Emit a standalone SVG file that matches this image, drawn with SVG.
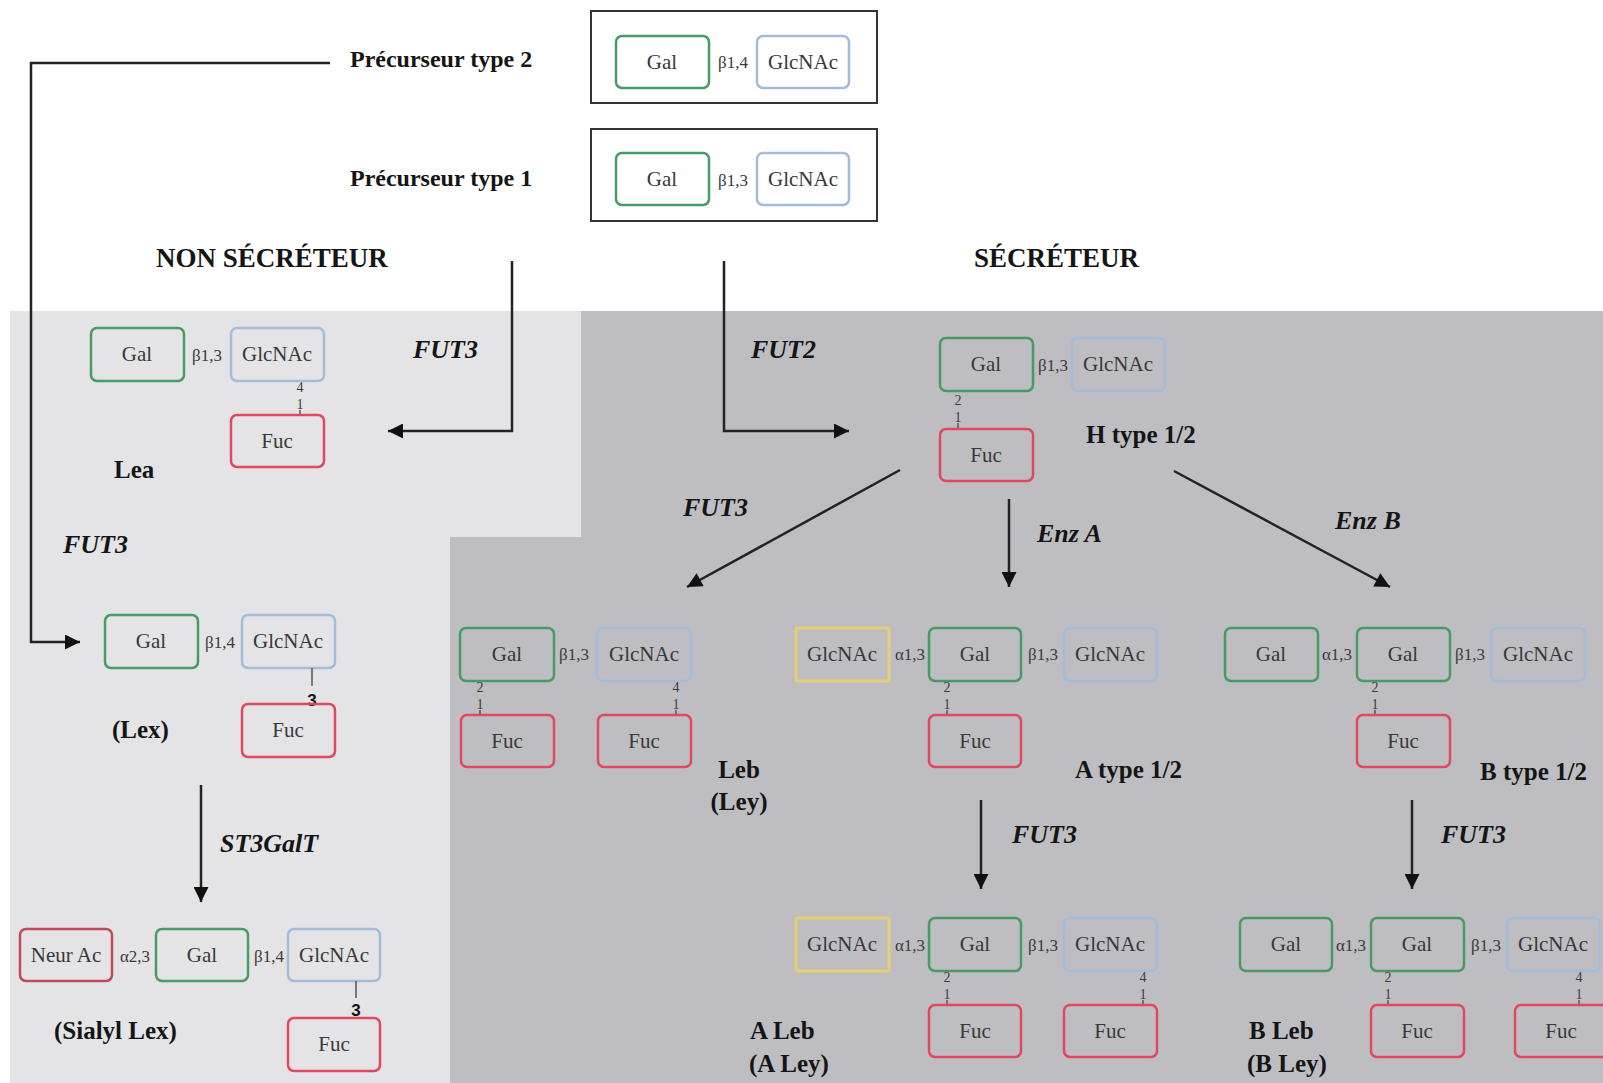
<svg xmlns="http://www.w3.org/2000/svg" width="1603" height="1083" viewBox="0 0 1603 1083">
<defs>
<style>
.bx{fill:none;stroke-width:2.5}
.gal{stroke:#469c64}
.glc{stroke:#a3bcd8}
.fuc{stroke:#e0485f}
.yel{stroke:#e6cf72;stroke-width:3}
.neu{stroke:#c04a5a}
.outer{fill:none;stroke:#333;stroke-width:2}
.t{font-family:"Liberation Serif",serif;font-size:21px;fill:#383838;text-anchor:middle}
.lk{font-family:"Liberation Serif",serif;font-size:17px;fill:#3a3a3a;text-anchor:middle}
.n{font-family:"Liberation Serif",serif;font-size:14px;fill:#3a3a3a;text-anchor:middle}
.b3{font-family:"Liberation Sans",sans-serif;font-size:17px;font-weight:bold;fill:#111;text-anchor:middle}
.lb{font-family:"Liberation Serif",serif;font-size:25px;font-weight:bold;fill:#151515}
.pr{font-family:"Liberation Serif",serif;font-size:24px;font-weight:bold;fill:#151515}
.hd{font-family:"Liberation Serif",serif;font-size:27px;font-weight:bold;fill:#151515}
.en{font-family:"Liberation Serif",serif;font-size:26px;font-weight:bold;font-style:italic;fill:#151515}
.bond{stroke:#555;stroke-width:1.5}
.c{fill:none;stroke:#222;stroke-width:2.5}
</style>
<marker id="ah" viewBox="0 0 10 10" refX="10" refY="5" markerWidth="17" markerHeight="15" markerUnits="userSpaceOnUse" orient="auto"><path d="M0,0 L10,5 L0,10 z" fill="#111"/></marker>
</defs>
<rect width="1603" height="1083" fill="#fff"/>
<polygon points="10,311 581,311 581,537 450,537 450,1083 10,1083" fill="#e4e4e7"/>
<polygon points="581,311 1603,311 1603,1083 450,1083 450,537 581,537" fill="#bebec2"/>

<g id="headers">
<text class="hd" x="156" y="267">NON SÉCRÉTEUR</text>
<text class="hd" x="974" y="267">SÉCRÉTEUR</text>
<text class="pr" x="350" y="67">Précurseur type 2</text>
<text class="pr" x="350" y="186">Précurseur type 1</text>
</g>

<g id="prec2">
<rect class="outer" x="591" y="11" width="286" height="92"/>
<rect class="bx gal" x="616" y="36" width="93" height="52" rx="6"/>
<text class="t" x="662" y="69">Gal</text>
<text class="lk" x="733" y="68">β1,4</text>
<rect class="bx glc" x="757" y="36" width="92" height="52" rx="6"/>
<text class="t" x="803" y="69">GlcNAc</text>
</g>

<g id="prec1">
<rect class="outer" x="591" y="129" width="286" height="92"/>
<rect class="bx gal" x="616" y="153" width="93" height="52" rx="6"/>
<text class="t" x="662" y="186">Gal</text>
<text class="lk" x="733" y="186">β1,3</text>
<rect class="bx glc" x="757" y="153" width="92" height="52" rx="6"/>
<text class="t" x="803" y="186">GlcNAc</text>
</g>

<g id="lea">
<rect class="bx gal" x="91" y="328" width="93" height="53" rx="6"/>
<text class="t" x="137" y="361">Gal</text>
<text class="lk" x="207" y="361">β1,3</text>
<rect class="bx glc" x="231" y="328" width="93" height="53" rx="6"/>
<text class="t" x="277" y="361">GlcNAc</text>
<text class="n" x="300" y="392">4</text>
<text class="n" x="300" y="409">1</text>
<line class="bond" x1="300" y1="410" x2="300" y2="415"/>
<rect class="bx fuc" x="231" y="415" width="93" height="52" rx="6"/>
<text class="t" x="277" y="448">Fuc</text>
<text class="lb" x="114" y="478">Lea</text>
</g>

<g id="lex">
<rect class="bx gal" x="105" y="615" width="93" height="53" rx="6"/>
<text class="t" x="151" y="648">Gal</text>
<text class="lk" x="220" y="648">β1,4</text>
<rect class="bx glc" x="242" y="615" width="93" height="53" rx="6"/>
<text class="t" x="288" y="648">GlcNAc</text>
<line class="bond" x1="312" y1="668" x2="312" y2="686"/>
<text class="b3" x="312" y="706">3</text>
<rect class="bx fuc" x="242" y="704" width="93" height="53" rx="6"/>
<text class="t" x="288" y="737">Fuc</text>
<text class="lb" x="112" y="738">(Lex)</text>
</g>

<g id="sialyl-lex">
<rect class="bx neu" x="20" y="929" width="92" height="52" rx="6"/>
<text class="t" x="66" y="962">Neur Ac</text>
<text class="lk" x="135" y="962">α2,3</text>
<rect class="bx gal" x="156" y="929" width="92" height="52" rx="6"/>
<text class="t" x="202" y="962">Gal</text>
<text class="lk" x="269" y="962">β1,4</text>
<rect class="bx glc" x="288" y="929" width="92" height="52" rx="6"/>
<text class="t" x="334" y="962">GlcNAc</text>
<line class="bond" x1="356" y1="981" x2="356" y2="998"/>
<text class="b3" x="356" y="1016">3</text>
<rect class="bx fuc" x="288" y="1018" width="92" height="53" rx="6"/>
<text class="t" x="334" y="1051">Fuc</text>
<text class="lb" x="54" y="1039">(Sialyl Lex)</text>
</g>

<g id="h-type">
<rect class="bx gal" x="940" y="338" width="93" height="53" rx="6"/>
<text class="t" x="986" y="371">Gal</text>
<text class="lk" x="1053" y="371">β1,3</text>
<rect class="bx glc" x="1072" y="338" width="93" height="53" rx="6"/>
<text class="t" x="1118" y="371">GlcNAc</text>
<text class="n" x="958" y="405">2</text>
<text class="n" x="958" y="422">1</text>
<line class="bond" x1="958" y1="423" x2="958" y2="429"/>
<rect class="bx fuc" x="940" y="429" width="93" height="52" rx="6"/>
<text class="t" x="986" y="462">Fuc</text>
<text class="lb" x="1086" y="443">H type 1/2</text>
</g>

<g id="leb">
<rect class="bx gal" x="460" y="628" width="94" height="53" rx="6"/>
<text class="t" x="507" y="661">Gal</text>
<text class="lk" x="574" y="660">β1,3</text>
<rect class="bx glc" x="597" y="628" width="94" height="53" rx="6"/>
<text class="t" x="644" y="661">GlcNAc</text>
<text class="n" x="480" y="692">2</text>
<text class="n" x="480" y="709">1</text>
<line class="bond" x1="480" y1="710" x2="480" y2="715"/>
<text class="n" x="676" y="692">4</text>
<text class="n" x="676" y="709">1</text>
<line class="bond" x1="676" y1="710" x2="676" y2="715"/>
<rect class="bx fuc" x="461" y="715" width="93" height="52" rx="6"/>
<text class="t" x="507" y="748">Fuc</text>
<rect class="bx fuc" x="598" y="715" width="93" height="52" rx="6"/>
<text class="t" x="644" y="748">Fuc</text>
<text class="lb" x="739" y="778" text-anchor="middle">Leb</text>
<text class="lb" x="739" y="810" text-anchor="middle">(Ley)</text>
</g>

<g id="a-type">
<rect class="bx yel" x="796" y="628" width="93" height="53" rx="2"/>
<text class="t" x="842" y="661">GlcNAc</text>
<text class="lk" x="910" y="660">α1,3</text>
<rect class="bx gal" x="929" y="628" width="92" height="53" rx="6"/>
<text class="t" x="975" y="661">Gal</text>
<text class="lk" x="1043" y="660">β1,3</text>
<rect class="bx glc" x="1064" y="628" width="93" height="53" rx="6"/>
<text class="t" x="1110" y="661">GlcNAc</text>
<text class="n" x="947" y="692">2</text>
<text class="n" x="947" y="709">1</text>
<line class="bond" x1="947" y1="710" x2="947" y2="715"/>
<rect class="bx fuc" x="929" y="715" width="92" height="52" rx="6"/>
<text class="t" x="975" y="748">Fuc</text>
<text class="lb" x="1075" y="778">A type 1/2</text>
</g>

<g id="b-type">
<rect class="bx gal" x="1225" y="628" width="93" height="53" rx="6"/>
<text class="t" x="1271" y="661">Gal</text>
<text class="lk" x="1337" y="660">α1,3</text>
<rect class="bx gal" x="1357" y="628" width="93" height="53" rx="6"/>
<text class="t" x="1403" y="661">Gal</text>
<text class="lk" x="1470" y="660">β1,3</text>
<rect class="bx glc" x="1491" y="628" width="94" height="53" rx="6"/>
<text class="t" x="1538" y="661">GlcNAc</text>
<text class="n" x="1375" y="692">2</text>
<text class="n" x="1375" y="709">1</text>
<line class="bond" x1="1375" y1="710" x2="1375" y2="715"/>
<rect class="bx fuc" x="1357" y="715" width="93" height="52" rx="6"/>
<text class="t" x="1403" y="748">Fuc</text>
<text class="lb" x="1480" y="780">B type 1/2</text>
</g>

<g id="a-leb">
<rect class="bx yel" x="796" y="918" width="93" height="53" rx="2"/>
<text class="t" x="842" y="951">GlcNAc</text>
<text class="lk" x="910" y="951">α1,3</text>
<rect class="bx gal" x="929" y="918" width="92" height="53" rx="6"/>
<text class="t" x="975" y="951">Gal</text>
<text class="lk" x="1043" y="951">β1,3</text>
<rect class="bx glc" x="1064" y="918" width="93" height="53" rx="6"/>
<text class="t" x="1110" y="951">GlcNAc</text>
<text class="n" x="947" y="982">2</text>
<text class="n" x="947" y="999">1</text>
<line class="bond" x1="947" y1="1000" x2="947" y2="1005"/>
<text class="n" x="1143" y="982">4</text>
<text class="n" x="1143" y="999">1</text>
<line class="bond" x1="1143" y1="1000" x2="1143" y2="1005"/>
<rect class="bx fuc" x="929" y="1005" width="92" height="52" rx="6"/>
<text class="t" x="975" y="1038">Fuc</text>
<rect class="bx fuc" x="1064" y="1005" width="93" height="52" rx="6"/>
<text class="t" x="1110" y="1038">Fuc</text>
<text class="lb" x="750" y="1039">A Leb</text>
<text class="lb" x="749" y="1072">(A Ley)</text>
</g>

<g id="b-leb">
<rect class="bx gal" x="1240" y="918" width="92" height="53" rx="6"/>
<text class="t" x="1286" y="951">Gal</text>
<text class="lk" x="1351" y="951">α1,3</text>
<rect class="bx gal" x="1371" y="918" width="93" height="53" rx="6"/>
<text class="t" x="1417" y="951">Gal</text>
<text class="lk" x="1486" y="951">β1,3</text>
<rect class="bx glc" x="1507" y="918" width="93" height="53" rx="6"/>
<text class="t" x="1553" y="951">GlcNAc</text>
<text class="n" x="1388" y="982">2</text>
<text class="n" x="1388" y="999">1</text>
<line class="bond" x1="1388" y1="1000" x2="1388" y2="1005"/>
<text class="n" x="1579" y="982">4</text>
<text class="n" x="1579" y="999">1</text>
<line class="bond" x1="1579" y1="1000" x2="1579" y2="1005"/>
<rect class="bx fuc" x="1371" y="1005" width="93" height="52" rx="6"/>
<text class="t" x="1417" y="1038">Fuc</text>
<rect class="bx fuc" x="1515" y="1005" width="93" height="52" rx="6"/>
<text class="t" x="1561" y="1038">Fuc</text>
<text class="lb" x="1249" y="1039">B Leb</text>
<text class="lb" x="1247" y="1072">(B Ley)</text>
</g>

<g id="connectors">
<path class="c" d="M330,63 H31 V642 H80" marker-end="url(#ah)"/>
<path class="c" d="M512,261 V431 H388" marker-end="url(#ah)"/>
<path class="c" d="M724,261 V431 H849" marker-end="url(#ah)"/>
<line class="c" x1="201" y1="785" x2="201" y2="902" marker-end="url(#ah)"/>
<line class="c" x1="900" y1="470" x2="687" y2="587" marker-end="url(#ah)"/>
<line class="c" x1="1009" y1="499" x2="1009" y2="587" marker-end="url(#ah)"/>
<line class="c" x1="1174" y1="471" x2="1390" y2="587" marker-end="url(#ah)"/>
<line class="c" x1="981" y1="800" x2="981" y2="889" marker-end="url(#ah)"/>
<line class="c" x1="1412" y1="800" x2="1412" y2="889" marker-end="url(#ah)"/>
<text class="en" x="413" y="358">FUT3</text>
<text class="en" x="63" y="553">FUT3</text>
<text class="en" x="220" y="852">ST3GalT</text>
<text class="en" x="751" y="358">FUT2</text>
<text class="en" x="683" y="516">FUT3</text>
<text class="en" x="1037" y="542">Enz A</text>
<text class="en" x="1335" y="529">Enz B</text>
<text class="en" x="1012" y="843">FUT3</text>
<text class="en" x="1441" y="843">FUT3</text>
</g>
</svg>
